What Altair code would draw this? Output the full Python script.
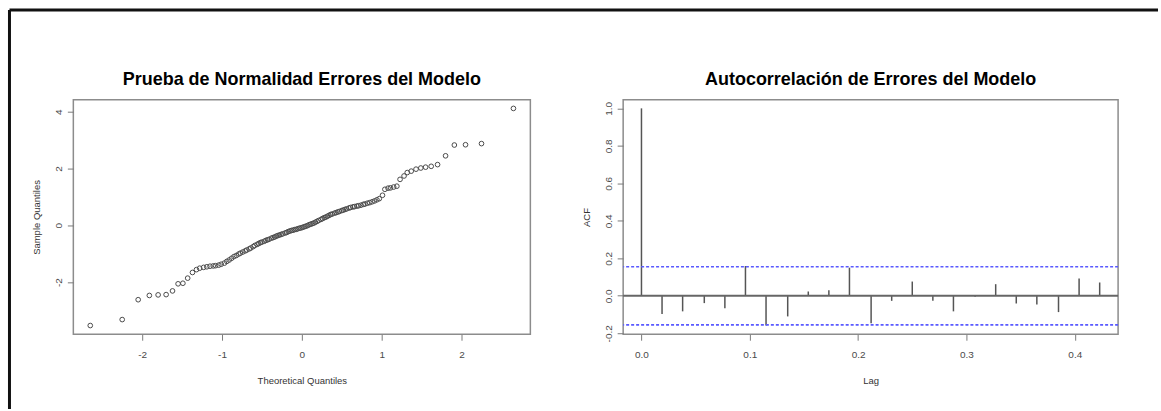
import altair as alt
import pandas as pd

# Normal Q-Q plot of the model residuals (124 points, sorted)
qq_theoretical = [
    -2.65, -2.25, -2.05, -1.91, -1.80, -1.70, -1.62, -1.55, -1.49, -1.43,
    -1.37, -1.32, -1.28, -1.23, -1.19, -1.15, -1.11, -1.08, -1.04, -1.01,
    -0.97, -0.94, -0.91, -0.88, -0.85, -0.82, -0.79, -0.77, -0.74, -0.71,
    -0.69, -0.66, -0.64, -0.61, -0.59, -0.56, -0.54, -0.52, -0.50, -0.47,
    -0.45, -0.43, -0.41, -0.38, -0.36, -0.34, -0.32, -0.30, -0.28, -0.26,
    -0.24, -0.21, -0.19, -0.17, -0.15, -0.13, -0.11, -0.09, -0.07, -0.05,
    -0.03, -0.01,
    0.01, 0.03, 0.05, 0.07, 0.09, 0.11, 0.13, 0.15, 0.17, 0.19,
    0.21, 0.24, 0.26, 0.28, 0.30, 0.32, 0.34, 0.36, 0.38, 0.41,
    0.43, 0.45, 0.47, 0.50, 0.52, 0.54, 0.56, 0.59, 0.61, 0.64,
    0.66, 0.69, 0.71, 0.74, 0.77, 0.79, 0.82, 0.85, 0.88, 0.91,
    0.94, 0.97, 1.01, 1.04, 1.08, 1.11, 1.15, 1.19, 1.23, 1.28,
    1.32, 1.37, 1.43, 1.49, 1.55, 1.62, 1.70, 1.80, 1.91, 2.05,
    2.25, 2.65,
]
qq_sample = [
    -3.53, -3.32, -2.62, -2.47, -2.45, -2.44, -2.31, -2.06, -2.04, -1.86,
    -1.66, -1.56, -1.51, -1.48, -1.46, -1.44, -1.43, -1.42, -1.40, -1.37,
    -1.33, -1.27, -1.22, -1.16, -1.10, -1.06, -1.01, -0.98, -0.94, -0.90,
    -0.87, -0.83, -0.80, -0.75, -0.71, -0.67, -0.64, -0.61, -0.59, -0.56,
    -0.53, -0.51, -0.49, -0.45, -0.43, -0.41, -0.38, -0.36, -0.34, -0.32,
    -0.30, -0.27, -0.25, -0.22, -0.20, -0.18, -0.17, -0.15, -0.14, -0.12,
    -0.10, -0.09,
    -0.07, -0.05, -0.03, -0.01, 0.02, 0.04, 0.06, 0.08, 0.11, 0.14,
    0.17, 0.21, 0.24, 0.27, 0.29, 0.32, 0.35, 0.38, 0.40, 0.43,
    0.45, 0.47, 0.49, 0.52, 0.54, 0.56, 0.58, 0.61, 0.63, 0.65,
    0.66, 0.68, 0.69, 0.71, 0.74, 0.75, 0.78, 0.80, 0.83, 0.86,
    0.90, 0.94, 1.06, 1.27, 1.31, 1.32, 1.35, 1.38, 1.62, 1.74,
    1.86, 1.91, 1.98, 2.02, 2.05, 2.08, 2.14, 2.45, 2.83, 2.84,
    2.88, 4.12,
]

# Sample autocorrelation of the residuals (weekly series, lag in years)
acf_lag = [
    0.000, 0.019, 0.038, 0.058, 0.077, 0.096, 0.115, 0.135, 0.154, 0.173,
    0.192, 0.212, 0.231, 0.250, 0.269, 0.288, 0.308, 0.327, 0.346, 0.365,
    0.385, 0.404, 0.423,
]
acf_value = [
    1.000, -0.097, -0.083, -0.039, -0.067, 0.159, -0.159, -0.110, 0.023, 0.030,
    0.150, -0.147, -0.027, 0.076, -0.027, -0.083, -0.005, 0.062, -0.041, -0.046,
    -0.087, 0.092, 0.071,
]
conf_limit = 0.155

qq_x_ticks = [-2, -1, 0, 1, 2]
qq_y_ticks = [-2, 0, 2, 4]
acf_x_ticks = [0.0, 0.1, 0.2, 0.3, 0.4]
acf_y_ticks = [-0.2, 0.0, 0.2, 0.4, 0.6, 0.8, 1.0]

qq_title = "Prueba de Normalidad Errores del Modelo"
acf_title = "Autocorrelación de Errores del Modelo"

FONT = "Liberation Sans"
TICK_COLOR = "#7a7a7a"
LABEL_COLOR = "#4a4a4a"

LEFT_W, RIGHT_W, PANEL_H = 458, 496, 235

qq_df = pd.DataFrame({"theoretical": qq_theoretical, "sample": qq_sample})
acf_df = pd.DataFrame({"lag": acf_lag, "acf": acf_value})
acf_df["base"] = 0.0
limit_df = pd.DataFrame({"limit": [conf_limit, -conf_limit]})
zero_df = pd.DataFrame({"zero": [0.0]})
one_row = pd.DataFrame({"k": [0]})

MINUS_FIX = "replace(datum.label, '\u2212', '-')"


def x_axis(values, fmt, title):
    return alt.Axis(
        values=values, format=fmt, labelExpr=MINUS_FIX, title=title,
        grid=False, domain=False, ticks=True, tickSize=6, tickColor=TICK_COLOR,
        tickWidth=1, labelPadding=9, labelFontSize=10, labelColor=LABEL_COLOR,
        labelOverlap=False, labelFont=FONT, titleFont=FONT, titleFontSize=9.5,
        titleFontWeight="normal", titleColor="#333333", titlePadding=16,
    )


def y_axis(values, fmt, title):
    return alt.Axis(
        values=values, format=fmt, labelExpr=MINUS_FIX, title=title,
        grid=False, domain=False, ticks=True, tickSize=6, tickColor=TICK_COLOR,
        tickWidth=1, labelAngle=270, labelAlign="center", labelBaseline="bottom",
        labelPadding=4, labelFontSize=10, labelColor=LABEL_COLOR,
        labelOverlap=False, labelFont=FONT, titleFont=FONT, titleFontSize=9.5,
        titleFontWeight="normal", titleColor="#333333", titlePadding=12,
    )


def panel_title(text, width):
    # heading drawn as a text mark centred over the plot area
    return alt.Chart(one_row).mark_text(
        text=text, font=FONT, fontSize=18, fontWeight="bold", color="#000000",
        align="center", baseline="alphabetic", clip=False,
    ).encode(x=alt.value(width / 2), y=alt.value(-15))


# ---- left panel: Q-Q plot -------------------------------------------------
qq_points = alt.Chart(qq_df).mark_point(
    shape="circle", filled=False, size=22, stroke="#4a4a4a", strokeWidth=1,
    opacity=1,
).encode(
    x=alt.X("theoretical:Q",
            scale=alt.Scale(domain=[-2.862, 2.862], nice=False, zero=False),
            axis=x_axis(qq_x_ticks, "d", "Theoretical Quantiles")),
    y=alt.Y("sample:Q",
            scale=alt.Scale(domain=[-3.836, 4.426], nice=False, zero=False),
            axis=y_axis(qq_y_ticks, "d", "Sample Quantiles")),
)

# outer page frame (top and left edges), drawn outside the plot area
frame_left = alt.Chart(one_row).mark_rule(
    color="#111111", strokeWidth=3, clip=False, strokeCap="butt"
).encode(x=alt.value(-64), y=alt.value(-90), y2=alt.value(310))
frame_top = alt.Chart(one_row).mark_rule(
    color="#111111", strokeWidth=3, clip=False, strokeCap="butt"
).encode(x=alt.value(-64), x2=alt.value(1087), y=alt.value(-90))

left = alt.layer(
    qq_points, panel_title(qq_title, LEFT_W), frame_left, frame_top
).properties(width=LEFT_W, height=PANEL_H)

# ---- right panel: ACF -----------------------------------------------------
acf_y_axis = y_axis(acf_y_ticks, ".1f", "ACF")
acf_x = alt.X("lag:Q",
              scale=alt.Scale(domain=[-0.0169, 0.440], nice=False, zero=False),
              axis=x_axis(acf_x_ticks, ".1f", "Lag"))
acf_y_scale = alt.Scale(domain=[-0.205, 1.046], nice=False, zero=False)

acf_bars = alt.Chart(acf_df).mark_rule(color="#555555", strokeWidth=1.5).encode(
    x=acf_x,
    y=alt.Y("base:Q", scale=acf_y_scale, axis=acf_y_axis),
    y2="acf:Q",
)
zero_line = alt.Chart(zero_df).mark_rule(color="#666666", strokeWidth=2).encode(
    y=alt.Y("zero:Q", scale=acf_y_scale, axis=acf_y_axis)
)
limit_lines = alt.Chart(limit_df).mark_rule(
    color="#5a5aff", strokeWidth=1.6, strokeDash=[3, 2]
).encode(y=alt.Y("limit:Q", scale=acf_y_scale, axis=acf_y_axis))

right = alt.layer(
    acf_bars, zero_line, limit_lines, panel_title(acf_title, RIGHT_W)
).properties(width=RIGHT_W, height=PANEL_H)

chart = alt.hconcat(left, right, spacing=93, bounds="flush").properties(
    padding={"left": 6.5, "top": 6.5, "right": 0, "bottom": 0},
    background="white",
).configure_view(
    stroke="#8c8c8c", strokeWidth=1.5
)

chart.save("out.html", embed_options={"renderer": "svg", "actions": False})
